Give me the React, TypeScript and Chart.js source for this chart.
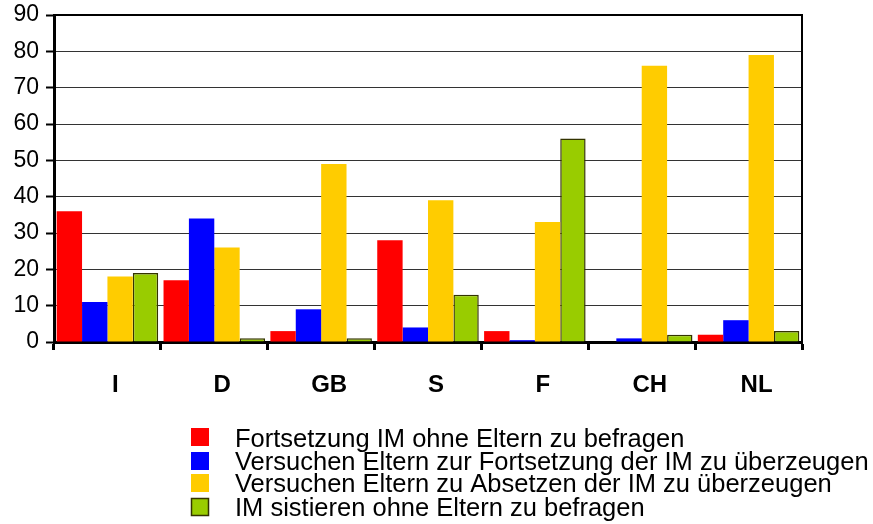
import React, { useEffect, useRef } from "react";
import { Chart, registerables } from "chart.js";

Chart.register(...registerables);

const categories = ["I", "D", "GB", "S", "F", "CH", "NL"];
const seriesNames = [
  "Fortsetzung IM ohne Eltern zu befragen",
  "Versuchen Eltern zur Fortsetzung der IM zu überzeugen",
  "Versuchen Eltern zu Absetzen der IM zu überzeugen",
  "IM sistieren ohne Eltern zu befragen",
];
const fortsetzung = [36, 17, 3, 28, 3, 0, 2];
const versuchenFortsetzung = [11, 34, 9, 4, 0.5, 1, 6];
const versuchenAbsetzen = [18, 26, 49, 39, 33, 76, 79];
const sistieren = [19, 1, 1, 13, 56, 2, 3];
const yTicks = [0, 10, 20, 30, 40, 50, 60, 70, 80, 90];

const colors = ["#FF0000", "#0000FF", "#FFCC00", "#99CC00"];
const FONT = "'Liberation Sans', Arial, Helvetica, sans-serif";

export default function App() {
  const ref = useRef<HTMLCanvasElement | null>(null);

  useEffect(() => {
    if (!ref.current) return;
    const values = [fortsetzung, versuchenFortsetzung, versuchenAbsetzen, sistieren];

    const framePlugin = {
      id: "frame",
      beforeDatasetsDraw(chart: any) {
        const { ctx, chartArea } = chart;
        ctx.save();
        ctx.strokeStyle = "#000";
        ctx.lineWidth = 2;
        ctx.beginPath();
        ctx.moveTo(chartArea.left, chartArea.top);
        ctx.lineTo(chartArea.right, chartArea.top);
        ctx.lineTo(chartArea.right, chartArea.bottom);
        ctx.stroke();
        ctx.restore();
      },
    };

    const legendPlugin = {
      id: "customLegend",
      afterDraw(chart: any) {
        const ctx = chart.ctx;
        ctx.save();
        ctx.font = `25.5px ${FONT}`;
        ctx.textBaseline = "alphabetic";
        ctx.textAlign = "left";
        const squareTops = [428, 452, 474, 498];
        const baselines = [447, 470, 492, 516];
        chart.data.datasets.forEach((ds: any, i: number) => {
          ctx.fillStyle = ds.backgroundColor;
          ctx.fillRect(191, squareTops[i], 18, 18);
          if (ds.borderWidth) {
            ctx.strokeStyle = ds.borderColor;
            ctx.lineWidth = 1.5;
            ctx.strokeRect(191.5, squareTops[i] + 0.5, 17, 17);
          }
          ctx.fillStyle = "#000";
          ctx.fillText(ds.label, 235, baselines[i]);
        });
        ctx.restore();
      },
    };

    const chart = new Chart(ref.current, {
      type: "bar",
      data: {
        labels: categories,
        datasets: seriesNames.map((name, i) => ({
          label: name,
          data: values[i],
          backgroundColor: colors[i],
          borderColor: i === 3 ? "#333300" : colors[i],
          borderWidth: i === 3 ? 1.5 : 0,
          categoryPercentage: 0.95,
          barPercentage: 1,
        })),
      },
      options: {
        responsive: false,
        animation: false,
        devicePixelRatio: 1,
        layout: { padding: { left: 0, right: 71, top: 15, bottom: 122 } },
        plugins: {
          legend: { display: false },
          tooltip: { enabled: false },
        },
        scales: {
          x: {
            offset: true,
            grid: {
              display: true,
              offset: true,
              drawOnChartArea: false,
              drawTicks: true,
              tickLength: 8,
              tickColor: "#000",
              tickWidth: 3,
            },
            border: { display: true, color: "#000", width: 3 },
            ticks: {
              color: "#000",
              padding: 21,
              labelOffset: 8,
              font: { family: FONT, size: 24, weight: "bold" },
            },
            afterFit: (s: any) => {
              s.height = 60;
              s.paddingLeft = 0;
              s.paddingRight = 0;
            },
          },
          y: {
            min: 0,
            max: 90,
            afterBuildTicks: (s: any) => {
              s.ticks = yTicks.map((v) => ({ value: v }));
            },
            grid: {
              color: "#333",
              lineWidth: 1,
              drawTicks: true,
              tickLength: 8,
              tickColor: "#000",
              tickWidth: 2,
            },
            border: { display: true, color: "#000", width: 3 },
            ticks: {
              color: "#000",
              padding: 7,
              font: { family: FONT, size: 23 },
            },
            afterFit: (s: any) => {
              s.width = 54;
              s.paddingTop = 0;
              s.paddingBottom = 0;
            },
          },
        },
      },
      plugins: [framePlugin, legendPlugin],
    } as any);

    return () => chart.destroy();
  }, []);

  return (
    <div style={{ position: "absolute", left: 0, top: 0, width: 873, height: 524, background: "#fff" }}>
      <canvas ref={ref} width={873} height={524} style={{ width: 873, height: 524, display: "block" }} />
    </div>
  );
}
